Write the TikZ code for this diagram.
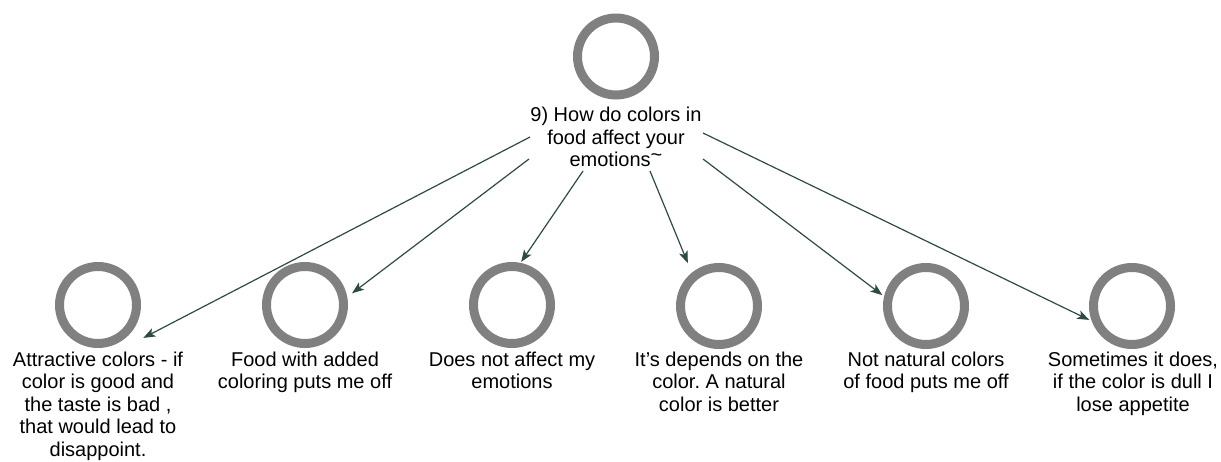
\documentclass[tikz,border=0pt]{standalone}
\usepackage{fontspec}
\setmainfont{Liberation Sans}
\usetikzlibrary{arrows.meta,calc}
\definecolor{ringgray}{RGB}{128,128,128}
\definecolor{linkgreen}{RGB}{46,74,70}
\frenchspacing

\begin{document}
\begin{tikzpicture}[x=1pt,y=-1pt,
    ring/.style={circle, draw=ringgray, line width=9pt, minimum size=77pt, inner sep=0pt},
    answer/.style={anchor=north, align=center, inner sep=0pt, font=\fontsize{20}{22.5}\selectfont},
    link/.style={draw=linkgreen, line width=1.2pt, -{Stealth[length=12pt,width=9pt,inset=3pt]}}]
    \useasboundingbox (0,0) rectangle (1221,461);

    % question
    \node[ring] (q) at (616,56.5) {};
    \node[answer] (qtext) at (616,107) {9) How do colors in\\food affect your\\emotions\raisebox{0.25em}[0pt][0pt]{\textasciitilde}};

    % answers
    \node[ring] (a1) at (98,305) {};
    \node[ring] (a2) at (305,305) {};
    \node[ring] (a3) at (512,305) {};
    \node[ring] (a4) at (719,306) {};
    \node[ring] (a5) at (926,306) {};
    \node[ring] (a6) at (1132,306) {};

    \node[answer] (t1) at (98,351.5) {Attractive colors - if\\color is good and\\the taste is bad ,\\that would lead to\\disappoint.};
    \node[answer] (t2) at (305,351.5) {Food with added\\coloring puts me off};
    \node[answer] (t3) at (512,351.5) {Does not affect my\\emotions};
    \node[answer] (t4) at (719,351.5) {It's depends on the\\color. A natural\\color is better};
    \node[answer] (t5) at (926,351.5) {Not natural colors\\of food puts me off};
    \node[answer] (t6) at (1133,351.5) {Sometimes it does,\\if the color is dull I\\lose appetite};

    % links
    \coordinate (s1) at (530,137);
    \coordinate (s2) at (529,159);
    \coordinate (s3) at (583,171);
    \coordinate (s4) at (650,171);
    \coordinate (s5) at (703,159);
    \coordinate (s6) at (703,133);
    \draw[link] (s1) -- ($(a1)+(36:56)$);
    \draw[link] (s2) -- ($(a2)+(-14:48.5)$);
    \draw[link] (s3) -- ($(a3)+(-78:44)$);
    \draw[link] (s4) -- ($(a4)+(234:53)$);
    \draw[link] (s5) -- ($(a5)+(194:45)$);
    \draw[link] (s6) -- ($(a6)+(162:45)$);
\end{tikzpicture}
\end{document}
